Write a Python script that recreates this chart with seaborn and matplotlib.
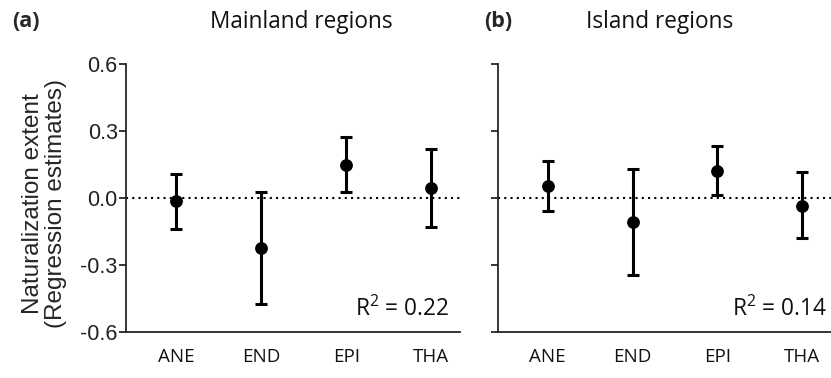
import numpy as np
import pandas as pd
import matplotlib
matplotlib.use("Agg")
import matplotlib.pyplot as plt
import seaborn as sns

# data
groups = ["ANE", "END", "EPI", "THA"]

main_est = [-0.015, -0.226, 0.148, 0.042]
main_lo = [-0.139, -0.477, 0.027, -0.132]
main_hi = [0.107, 0.027, 0.270, 0.218]

isl_est = [0.054, -0.110, 0.121, -0.036]
isl_lo = [-0.058, -0.346, 0.012, -0.182]
isl_hi = [0.164, 0.127, 0.231, 0.114]

r2_labels = [r"R$^{\mathrm{2}}$ = 0.22", r"R$^{\mathrm{2}}$ = 0.14"]
r2_xpos = [0.966, 0.988]
titles = ["Mainland regions", "Island regions"]
panel_tags = ["(a)", "(b)"]
yticks = [-0.6, -0.3, 0.0, 0.3, 0.6]
ytick_labels = ["-0.6", "-0.3", "0.0", "0.3", "0.6"]

sns.set_style("ticks")
plt.rcParams["font.family"] = ["Open Sans", "DejaVu Sans"]
plt.rcParams["mathtext.fontset"] = "custom"
plt.rcParams["mathtext.rm"] = "Open Sans"

fig = plt.figure(figsize=(8.31, 3.78), dpi=100)
ax1 = fig.add_axes([0.1516, 0.1225, 0.402, 0.7095])
ax2 = fig.add_axes([0.599, 0.1225, 0.401, 0.7095])

panels = [
    (ax1, main_est, main_lo, main_hi),
    (ax2, isl_est, isl_lo, isl_hi),
]

for i, (ax, est, lo, hi) in enumerate(panels):
    df = pd.DataFrame({"group": groups, "est": est, "lo": lo, "hi": hi})
    ax.axhline(0, color="black", lw=1.5, linestyle=(0, (1, 2)), zorder=1)
    ax.errorbar(df["group"], df["est"],
                yerr=[df["est"] - df["lo"], df["hi"] - df["est"]],
                fmt="none", ecolor="black", elinewidth=2.2, capsize=4.5,
                capthick=2.2, zorder=2)
    sns.scatterplot(data=df, x="group", y="est", ax=ax, color="black",
                    s=85, edgecolor="black", linewidth=0, zorder=3)

    ax.set_xlim(-0.59, 3.34)
    ax.set_ylim(-0.6, 0.6)
    ax.set_yticks(yticks)
    ax.set_xlabel("")
    ax.set_ylabel("")
    for s in ["top", "right"]:
        ax.spines[s].set_visible(False)
    ax.spines["left"].set_linewidth(1.3)
    ax.spines["bottom"].set_linewidth(1.3)
    ax.tick_params(axis="x", length=0, pad=12, labelsize=13.5,
                   labelcolor="#111111")
    ax.tick_params(axis="y", length=5, width=1.3, pad=1)

    ax.text(r2_xpos[i], 0.035, r2_labels[i], transform=ax.transAxes,
            ha="right", va="bottom", fontsize=16.3, color="#111111")

ax1.set_yticklabels(ytick_labels, family="Liberation Sans", fontsize=15.5,
                    color="#222222")
ax2.set_yticklabels([])
ax1.set_ylabel("Naturalization extent\n(Regression estimates)",
               family="Liberation Sans", fontsize=17.5, linespacing=1.05)
ax1.yaxis.set_label_coords(-0.177, 0.478)

fig.text(0.362, 0.942, titles[0], ha="center", va="center", fontsize=16.3,
         color="#111111")
fig.text(0.794, 0.942, titles[1], ha="center", va="center", fontsize=16.3,
         color="#111111")
fig.text(0.014, 0.942, panel_tags[0], ha="left", va="center", fontsize=15.5,
         fontweight="bold")
fig.text(0.583, 0.942, panel_tags[1], ha="left", va="center", fontsize=15.5,
         fontweight="bold")

fig.savefig("out.png", dpi=100)
